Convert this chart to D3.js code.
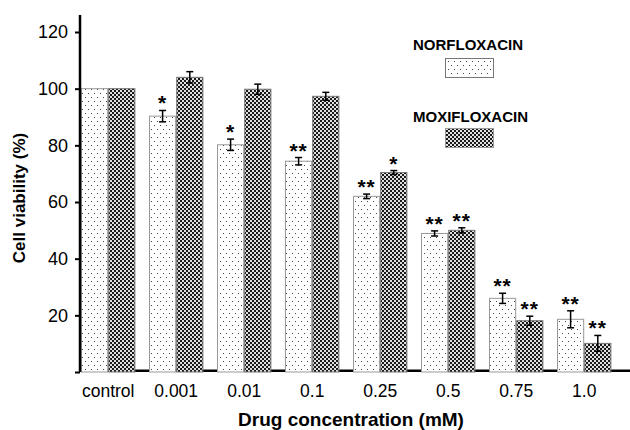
<!DOCTYPE html>
<html>
<head>
<meta charset="utf-8">
<script src="https://cdn.jsdelivr.net/npm/d3@7"></script>
<style>
body { margin: 0; background: #fff; }
text { font-family: Arial, "Liberation Sans", sans-serif; }
</style>
</head>
<body>
<div id="chart"></div>
<script>
var width = 630;
var height = 430;

// data
var categories = ["control", "0.001", "0.01", "0.1", "0.25", "0.5", "0.75", "1.0"];
var norValues  = [100, 90.3, 80.2, 74.4, 62.0, 48.9, 26.0, 18.6];
var norErrors  = [0, 2.0, 2.0, 1.3, 0.8, 0.9, 1.8, 3.0];
var moxiValues = [100, 104.0, 99.8, 97.3, 70.4, 50.0, 18.1, 10.1];
var moxiErrors = [0, 2.0, 1.8, 1.4, 0.7, 0.9, 1.6, 2.8];
var norStars   = ["", "*", "*", "**", "**", "**", "**", "**"];
var moxiStars  = ["", "", "", "", "*", "**", "**", "**"];
var seriesNames = ["NORFLOXACIN", "MOXIFLOXACIN"];
var yTicks = [0, 20, 40, 60, 80, 100, 120];

var svg = d3.select("#chart").append("svg")
	.attr("width", width).attr("height", height);

var defs = svg.append("defs");
// sparse dots
var p1 = defs.append("pattern").attr("id", "dots")
	.attr("patternUnits", "userSpaceOnUse").attr("width", 6).attr("height", 8);
p1.append("rect").attr("width", 6).attr("height", 8).attr("fill", "#fff");
p1.append("rect").attr("x", 1).attr("y", 1).attr("width", 1).attr("height", 1).attr("fill", "#444");
p1.append("rect").attr("x", 4).attr("y", 5).attr("width", 1).attr("height", 1).attr("fill", "#444");
// dense checker
var p2 = defs.append("pattern").attr("id", "checks")
	.attr("patternUnits", "userSpaceOnUse").attr("width", 4).attr("height", 4);
p2.append("rect").attr("width", 4).attr("height", 4).attr("fill", "#e0e0e0");
p2.append("rect").attr("x", 0).attr("y", 0).attr("width", 2).attr("height", 2).attr("fill", "#1a1a1a");
p2.append("rect").attr("x", 2).attr("y", 2).attr("width", 2).attr("height", 2).attr("fill", "#1a1a1a");

var x0 = d3.scaleBand().domain(categories).range([81, 625])
	.paddingInner(0.2).paddingOuter(0.1).align(0);
var x1 = d3.scaleBand().domain(seriesNames).range([0, x0.bandwidth()]);
var y = d3.scaleLinear().domain([0, 120]).range([372, 32]);

// thick baseline, bars are drawn over it
svg.append("line")
	.attr("x1", 80).attr("x2", 630)
	.attr("y1", y(0) - 1.3).attr("y2", y(0) - 1.3)
	.attr("stroke", "#000").attr("stroke-width", 2.6);

var rows = categories.map(function(c, i) {
	return [
		{cat: c, s: seriesNames[0], v: norValues[i], e: norErrors[i], star: norStars[i], fill: "url(#dots)", stroke: "#999"},
		{cat: c, s: seriesNames[1], v: moxiValues[i], e: moxiErrors[i], star: moxiStars[i], fill: "url(#checks)", stroke: "#777"}
	];
});
var flat = [].concat.apply([], rows);

function bx(d) { return x0(d.cat) + x1(d.s); }

svg.append("g").selectAll("rect")
	.data(flat).enter().append("rect")
	.attr("x", function(d) { return bx(d) + 0.5; })
	.attr("y", function(d) { return y(d.v); })
	.attr("width", x1.bandwidth() - 1)
	.attr("height", function(d) { return y(0) - y(d.v); })
	.attr("fill", function(d) { return d.fill; })
	.attr("stroke", function(d) { return d.stroke; })
	.attr("stroke-width", 1);

// error bars
var eb = svg.append("g").attr("stroke", "#000").attr("stroke-width", 1.5);
flat.filter(function(d) { return d.e > 0; }).forEach(function(d) {
	var cx = bx(d) + x1.bandwidth() / 2;
	eb.append("line").attr("x1", cx).attr("x2", cx).attr("y1", y(d.v - d.e)).attr("y2", y(d.v + d.e));
	eb.append("line").attr("x1", cx - 3.5).attr("x2", cx + 3.5).attr("y1", y(d.v - d.e)).attr("y2", y(d.v - d.e));
	eb.append("line").attr("x1", cx - 3.5).attr("x2", cx + 3.5).attr("y1", y(d.v + d.e)).attr("y2", y(d.v + d.e));
});

// significance stars
svg.append("g").selectAll("text")
	.data(flat.filter(function(d) { return d.star; })).enter().append("text")
	.attr("x", function(d) { return bx(d) + x1.bandwidth() / 2; })
	.attr("y", function(d) { return y(d.v + d.e); })
	.attr("text-anchor", "middle")
	.style("font-size", "21px").style("font-weight", "bold")
	.style("letter-spacing", "1px")
	.text(function(d) { return d.star; });

// y axis
var yAxis = svg.append("g").attr("transform", "translate(80,0)")
	.call(d3.axisLeft(y).tickValues(yTicks).tickSize(5)
		.tickFormat(function(d) { return d === 0 ? "" : d; }));
yAxis.select(".domain").remove();
yAxis.selectAll(".tick line").attr("stroke-width", 2);
yAxis.selectAll(".tick text").attr("x", -12)
	.style("font-size", "18px").style("font-family", "Arial, 'Liberation Sans', sans-serif").attr("fill", "#000");
svg.append("line").attr("x1", 80).attr("x2", 80).attr("y1", 15).attr("y2", y(0))
	.attr("stroke", "#000").attr("stroke-width", 2.5);

// x labels
svg.append("g").selectAll("text")
	.data(categories).enter().append("text")
	.attr("x", function(d) { return x0(d) + x0.bandwidth() / 2; })
	.attr("y", 397)
	.attr("text-anchor", "middle")
	.style("font-size", "17.5px")
	.text(function(d) { return d; });

svg.append("text").attr("x", 351).attr("y", 426)
	.attr("text-anchor", "middle")
	.style("font-size", "19px").style("font-weight", "bold")
	.text("Drug concentration (mM)");

svg.append("text").attr("transform", "translate(25,198) rotate(-90)")
	.attr("text-anchor", "middle")
	.style("font-size", "17px").style("font-weight", "bold")
	.text("Cell viability (%)");

// legend
var legend = [
	{name: seriesNames[0], fill: "url(#dots)", stroke: "#777", ty: 50, by: 58},
	{name: seriesNames[1], fill: "url(#checks)", stroke: "#999", ty: 122, by: 128}
];
legend.forEach(function(l) {
	svg.append("text").attr("x", 413).attr("y", l.ty)
		.style("font-size", "15px").style("font-weight", "bold")
		.text(l.name);
	svg.append("rect").attr("x", 445.5).attr("y", l.by + 0.5).attr("width", 48).attr("height", 19)
		.attr("fill", l.fill).attr("stroke", l.stroke).attr("stroke-width", 1);
});
</script>
</body>
</html>
